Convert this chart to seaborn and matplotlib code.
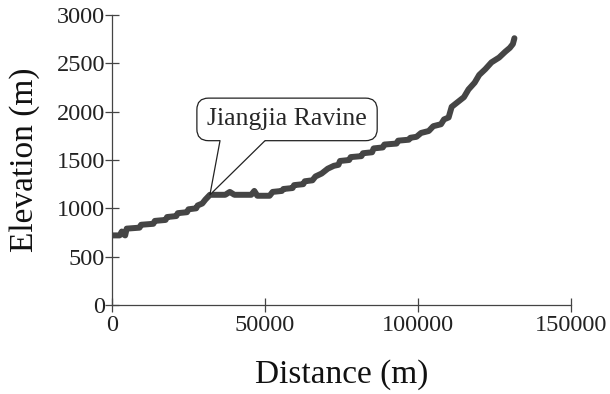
import matplotlib
matplotlib.use("Agg")
import matplotlib.pyplot as plt
import seaborn as sns
import pandas as pd
from matplotlib.patches import Polygon

distance = [0, 2500, 3200, 3800, 4300, 4800, 9000, 9500, 13500, 14000, 17500, 18000,
            21000, 21500, 24500, 25000, 27500, 28000, 29500, 30500, 32000, 37000, 38500,
            40000, 45500, 46500, 47500, 51500, 52500, 55500, 56000, 59000, 59500, 62500,
            63000, 65500, 66500, 68500, 70500, 72500, 74000, 74500, 77500, 78000, 81500,
            82000, 85000, 85500, 88500, 89000, 93000, 93500, 97000, 97500, 99500, 101000,
            103500, 105000, 107500, 108500, 110000, 111000, 113000, 115000, 116500, 118500,
            120000, 122000, 124000, 126500, 128500, 130000, 131000, 131500]
elevation = [720, 720, 760, 730, 720, 790, 800, 830, 840, 870, 880, 910,
             920, 950, 960, 990, 1000, 1030, 1050, 1090, 1140, 1140, 1170,
             1140, 1140, 1180, 1130, 1130, 1170, 1180, 1200, 1210, 1240, 1250,
             1280, 1290, 1330, 1360, 1410, 1440, 1450, 1490, 1500, 1530, 1540,
             1570, 1580, 1620, 1630, 1660, 1670, 1700, 1710, 1730, 1740, 1780,
             1800, 1850, 1870, 1920, 1940, 2050, 2100, 2150, 2230, 2300,
             2380, 2440, 2510, 2560, 2620, 2660, 2700, 2760]

x_ticks = [0, 50000, 100000, 150000]
y_ticks = [0, 500, 1000, 1500, 2000, 2500, 3000]
label_text = "Jiangjia Ravine"
label_point = (32000, 1140)

df = pd.DataFrame({"Distance (m)": distance, "Elevation (m)": elevation})

sns.set_style("white")
plt.rcParams["font.family"] = ["Liberation Serif", "DejaVu Serif"]

fig = plt.figure(figsize=(6.1, 3.94), dpi=100)
ax = fig.add_axes([0.1836, 0.2259, 0.7525, 0.736])

sns.lineplot(data=df, x="Distance (m)", y="Elevation (m)", ax=ax,
             color="#454545", linewidth=4.3, solid_joinstyle="round", solid_capstyle="round")

ax.set_xlim(0, 150000)
ax.set_ylim(0, 3000)
ax.set_xticks(x_ticks)
ax.set_yticks(y_ticks)
ax.tick_params(bottom=True, left=True, direction="inout", length=10, width=0.9,
               color="#444444", labelsize=17.5, labelcolor="#222222")
ax.tick_params(axis="y", pad=0)
ax.tick_params(axis="x", pad=2)
for s in ["top", "right"]:
    ax.spines[s].set_visible(False)
for s in ["left", "bottom"]:
    ax.spines[s].set_color("#444444")
    ax.spines[s].set_linewidth(0.9)
ax.set_xlabel("Distance (m)", fontsize=24, labelpad=17, color="#111111")
ax.set_ylabel("Elevation (m)", fontsize=24, labelpad=12, color="#111111")

txt = ax.text(57200, 1920, label_text, ha="center", va="center", fontsize=18.5,
              bbox=dict(boxstyle="round,pad=0.4,rounding_size=0.45", fc="white",
                        ec="#222222", lw=0.9), zorder=5)
fig.canvas.draw()
bb = txt.get_bbox_patch().get_window_extent()
inv = ax.transData.inverted()
(x0, y0) = inv.transform((bb.x0, bb.y0))
ybot = y0
xa, xb = 35300, 50000
poly = Polygon([(xa, ybot + 30), (xa, ybot), label_point, (xb, ybot), (xb, ybot + 30)],
               closed=True, fc="white", ec="none", zorder=6)
ax.add_patch(poly)
ax.plot([xa, label_point[0], xb], [ybot, label_point[1], ybot], color="#222222",
        lw=0.9, zorder=7)

fig.savefig("out.png", dpi=100)
